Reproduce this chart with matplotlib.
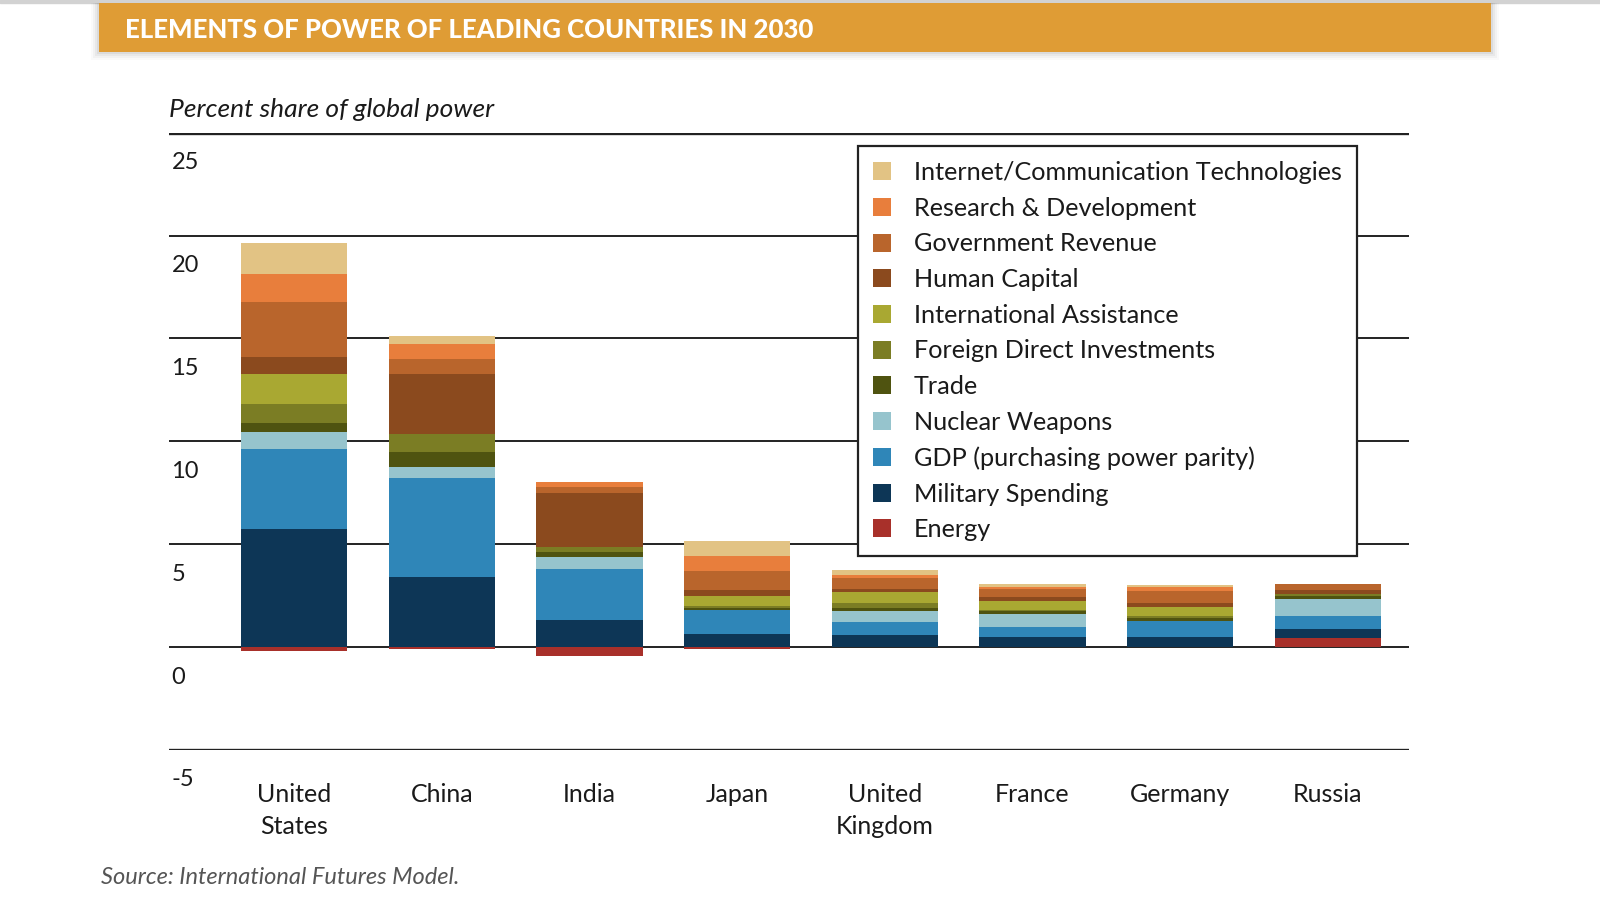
import matplotlib
matplotlib.use("Agg")
import matplotlib.pyplot as plt
import matplotlib.transforms as mtransforms
from matplotlib.patches import Patch, Rectangle
import numpy as np

plt.rcParams['font.family'] = ['Lato', 'DejaVu Sans']

# data (percent share of global power)
countries = ["United\nStates", "China", "India", "Japan", "United\nKingdom",
             "France", "Germany", "Russia"]
energy = [-0.2, -0.1, -0.44, -0.1, 0.0, 0.0, 0.0, 0.43]
military = [5.72, 3.43, 1.31, 0.65, 0.59, 0.49, 0.49, 0.44]
gdp = [3.89, 4.79, 2.50, 1.15, 0.64, 0.49, 0.78, 0.65]
nuclear = [0.82, 0.54, 0.57, 0.0, 0.53, 0.62, 0.0, 0.82]
trade = [0.45, 0.73, 0.24, 0.12, 0.14, 0.16, 0.15, 0.14]
fdi = [0.93, 0.85, 0.22, 0.09, 0.22, 0.05, 0.10, 0.10]
intl_assist = [1.47, 0.0, 0.0, 0.49, 0.54, 0.45, 0.44, 0.0]
human_cap = [0.82, 2.93, 2.64, 0.25, 0.17, 0.17, 0.16, 0.20]
gov_rev = [2.66, 0.72, 0.30, 0.94, 0.55, 0.40, 0.59, 0.29]
rnd = [1.38, 0.72, 0.23, 0.72, 0.10, 0.09, 0.23, 0.0]
ict = [1.48, 0.40, 0.0, 0.75, 0.25, 0.13, 0.10, 0.0]

# stacking order, bottom to top (energy drawn separately from zero)
series = [
    ("Military Spending", military, "#0D3656"),
    ("GDP (purchasing power parity)", gdp, "#2F86B8"),
    ("Nuclear Weapons", nuclear, "#96C4CD"),
    ("Trade", trade, "#4F5310"),
    ("Foreign Direct Investments", fdi, "#7B7D24"),
    ("International Assistance", intl_assist, "#A9A832"),
    ("Human Capital", human_cap, "#8B4A1E"),
    ("Government Revenue", gov_rev, "#B9652C"),
    ("Research & Development", rnd, "#E87E3C"),
    ("Internet/Communication Technologies", ict, "#E2C384"),
]
energy_color = "#A8302A"
text_color = "#1a1a1a"

fig = plt.figure(figsize=(16, 9), dpi=100)
ax = fig.add_axes([0.1056, 0.1667, 0.775, 0.6859])

x = np.arange(len(countries))
width = 0.72

# horizontal rules
for v in range(-5, 30, 5):
    lw = 2.4 if v in (-5, 25) else 1.4
    ax.axhline(v, color="#222222", lw=lw, zorder=0)

ax.bar(x, energy, width, bottom=0, color=energy_color, zorder=2, linewidth=0)
base = np.maximum(np.array(energy), 0)
for name, vals, col in series:
    ax.bar(x, vals, width, bottom=base, color=col, zorder=2, linewidth=0)
    base = base + np.array(vals)

ax.set_xlim(-0.847, 7.55)
ax.set_ylim(-5, 25)
for s in ax.spines.values():
    s.set_visible(False)
ax.set_yticks([])
ax.set_xticks(x)
ax.set_xticklabels(countries, fontsize=18, color=text_color, linespacing=1.45)
ax.tick_params(axis="x", length=0, pad=24)

# y labels sit just below their rules
trans = mtransforms.blended_transform_factory(ax.transAxes, ax.transData)
trans = mtransforms.offset_copy(trans, fig=fig, y=-30, units="dots")
for v in range(-5, 30, 5):
    ax.text(0.002, v, str(v), transform=trans, ha="left", va="center",
            fontsize=17, color=text_color)

ax.text(0.0, 1.0, "Percent share of global power",
        transform=mtransforms.offset_copy(ax.transAxes, fig=fig, y=12, units="dots"),
        ha="left", va="bottom", fontsize=19, style="italic", color=text_color)

# legend, top entry first
handles = [Patch(facecolor=c, edgecolor="none") for _, _, c in series[::-1]]
handles.append(Patch(facecolor=energy_color, edgecolor="none"))
labels = [n for n, _, _ in series[::-1]] + ["Energy"]
leg = ax.legend(handles, labels, loc="upper left",
                bbox_to_anchor=(858 / 1600, 1 - 146 / 900),
                bbox_transform=fig.transFigure, fontsize=18.2, frameon=True,
                fancybox=False, edgecolor="#222222", framealpha=1,
                handlelength=0.72, handleheight=0.72, handletextpad=0.9,
                labelspacing=0.5, borderpad=0.6, borderaxespad=0)
leg.get_frame().set_linewidth(1.6)
for t in leg.get_texts():
    t.set_color(text_color)
leg.set_zorder(5)

# title band
fig.patches.append(Rectangle((0, 1 - 3 / 900), 1, 3 / 900, transform=fig.transFigure,
                             color="#d2d2d2", zorder=0))
for i, a in enumerate([0.05, 0.04, 0.03, 0.02]):
    d = (i + 1) * 2
    fig.patches.append(Rectangle(((99 - d) / 1600, 1 - (52 + d) / 900),
                                 (1392 + 2 * d) / 1600, (49 + d) / 900,
                                 transform=fig.transFigure, color="black",
                                 alpha=a, zorder=0, linewidth=0))
fig.patches.append(Rectangle((99 / 1600, 1 - 52 / 900), 1392 / 1600, 49 / 900,
                             transform=fig.transFigure, color="#DF9C35", zorder=1,
                             linewidth=0))
fig.text(125 / 1600, 1 - 30 / 900, "ELEMENTS OF POWER OF LEADING COUNTRIES IN 2030",
         color="white", fontsize=18.5, fontweight="black", ha="left", va="center")

fig.text(101 / 1600, 1 - 878 / 900, "Source: International Futures Model.",
         fontsize=17, style="italic", color="#555555", ha="left", va="center")

fig.savefig("out.png", dpi=100)
